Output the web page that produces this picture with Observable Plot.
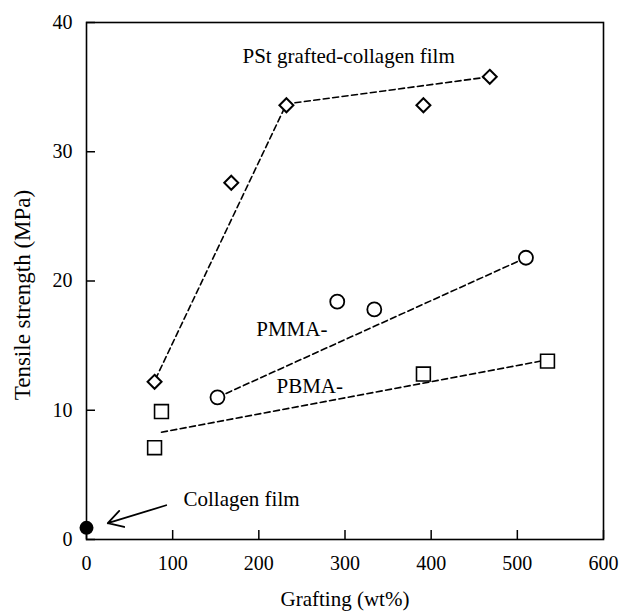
<!DOCTYPE html>
<html><head><meta charset="utf-8">
<script src="https://cdn.jsdelivr.net/npm/d3@7"></script>
<script src="https://cdn.jsdelivr.net/npm/@observablehq/plot@0.6"></script>
<style>
body{margin:0;background:#fff}
svg, svg text{font-family:"Liberation Serif","Times New Roman",Times,serif !important;}
</style>
</head><body><div id="chart"></div>
<script>
// Data
const pstX = [79, 168, 232, 391, 468];
const pstY = [12.2, 27.6, 33.6, 33.6, 35.8];
const pmmaX = [152, 291, 334, 510];
const pmmaY = [11.0, 18.4, 17.8, 21.8];
const pbmaX = [79, 87, 391, 535];
const pbmaY = [7.1, 9.9, 12.8, 13.8];
const collagenX = [0];
const collagenY = [0.9];

// Trend (dashed) lines
const pstLineX = [80, 232, 468];
const pstLineY = [12.4, 33.7, 35.8];
const pmmaLineX = [152, 510];
const pmmaLineY = [11.0, 21.8];
const pbmaLineX = [87, 535];
const pbmaLineY = [8.3, 13.9];

// Annotations
const labelTexts = ["PSt grafted-collagen film", "PMMA-", "PBMA-", "Collagen film"];
const labelX = [181, 197, 220.5, 112.6];
const labelY = [37.4, 16.25, 11.84, 3.1];
const arrowFrom = [92.5, 2.65];
const arrowTo = [24.7, 1.26];

const xTicks = [0, 100, 200, 300, 400, 500, 600];
const yTicks = [0, 10, 20, 30, 40];
const xTitle = "Grafting (wt%)";
const yTitle = "Tensile strength (MPa)";

const zip = (xs, ys) => xs.map((x, i) => ({x, y: ys[i]}));
const pst = zip(pstX, pstY), pmma = zip(pmmaX, pmmaY), pbma = zip(pbmaX, pbmaY);
const collagen = zip(collagenX, collagenY);
const labels = labelTexts.map((t, i) => ({t, x: labelX[i], y: labelY[i]}));
const arrows = [{x1: arrowFrom[0], y1: arrowFrom[1], x2: arrowTo[0], y2: arrowTo[1]}];

const FONT = "Liberation Serif";
const dash = {stroke: "#000", strokeWidth: 1.6, strokeDasharray: "6,3.5"};

const chart = Plot.plot({
  width: 623, height: 612,
  marginLeft: 86, marginRight: 20, marginTop: 22, marginBottom: 73,
  style: {fontFamily: FONT, fontSize: "20px", color: "#000", background: "#fff", overflow: "visible"},
  x: {domain: [0, 600]},
  y: {domain: [0, 40]},
  marks: [
    Plot.frame({stroke: "#000", strokeWidth: 1.6}),
    Plot.axisX(xTicks, {tickSize: -9, tickPadding: 25, label: null, strokeWidth: 1.5, fontSize: 20, fontFamily: FONT}),
    Plot.axisY(yTicks, {tickSize: -9, tickPadding: 23, label: null, strokeWidth: 1.5, fontSize: 20, fontFamily: FONT}),
    Plot.line(zip(pstLineX, pstLineY), {x: "x", y: "y", ...dash}),
    Plot.line(zip(pmmaLineX, pmmaLineY), {x: "x", y: "y", ...dash}),
    Plot.line(zip(pbmaLineX, pbmaLineY), {x: "x", y: "y", ...dash}),
    Plot.dot(pst, {x: "x", y: "y", symbol: "diamond2", r: 6.3, stroke: "#000", strokeWidth: 2, fill: "white"}),
    Plot.dot(pmma, {x: "x", y: "y", symbol: "circle", r: 7, stroke: "#000", strokeWidth: 1.8, fill: "white"}),
    Plot.dot(pbma, {x: "x", y: "y", symbol: "square", r: 7.8, stroke: "#000", strokeWidth: 1.6, fill: "white"}),
    Plot.dot(collagen, {x: "x", y: "y", r: 7, fill: "#000", stroke: "none"}),
    Plot.arrow(arrows, {x1: "x1", y1: "y1", x2: "x2", y2: "y2", stroke: "#000", strokeWidth: 1.8, headLength: 14, bend: 0}),
    Plot.text(labels, {x: "x", y: "y", text: "t", textAnchor: "start", fontSize: 21, fontFamily: FONT, fill: "#000"}),
    Plot.text([xTitle], {frameAnchor: "bottom", textAnchor: "middle", lineAnchor: "middle", dy: 60, fontSize: 21, fontFamily: FONT, fill: "#000"}),
    Plot.text([yTitle], {frameAnchor: "left", textAnchor: "middle", lineAnchor: "middle", rotate: -90, dx: -64, dy: 14, fontSize: 23, fontFamily: FONT, fill: "#000"})
  ]
});
document.getElementById("chart").appendChild(chart);
</script>
</body></html>
